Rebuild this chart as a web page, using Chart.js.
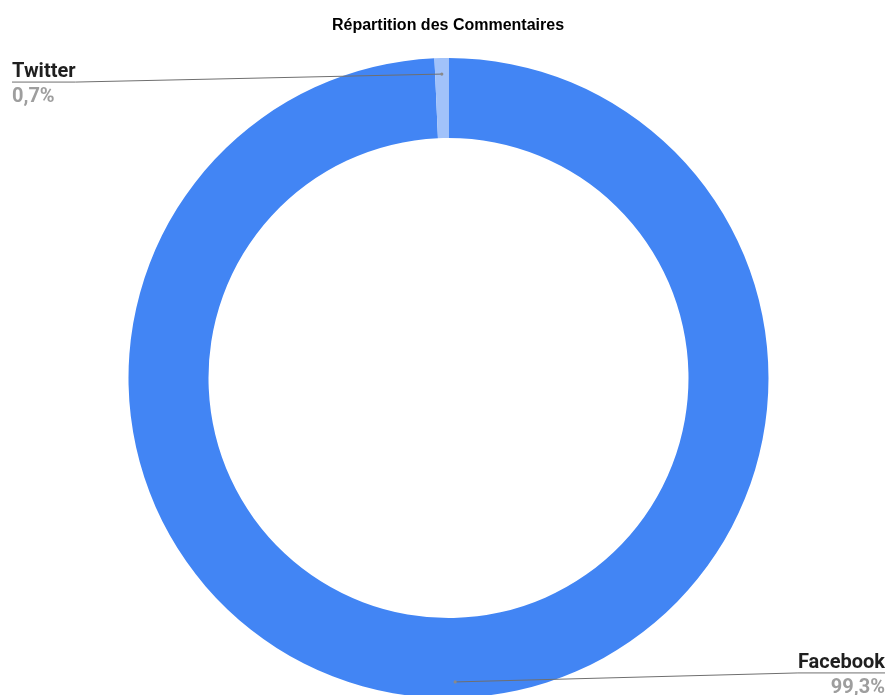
<!DOCTYPE html>
<html>
<head>
<meta charset="utf-8">
<script src="https://cdn.jsdelivr.net/npm/chart.js@4/dist/chart.umd.min.js"></script>
<style>
html,body{margin:0;padding:0;overflow:hidden;background:#fff;}
canvas{display:block;}
</style>
</head>
<body>
<canvas id="c" width="886" height="698"></canvas>
<script>
const titleText = "Répartition des Commentaires";
const categories = ["Facebook", "Twitter"];
const values = [99.3, 0.7];
const colors = ["#4285F4", "#A1C2FA"];

const labelPlugin = {
  id: 'sliceLabels',
  afterDraw(chart) {
    const ctx = chart.ctx;
    // title
    ctx.save();
    ctx.font = "bold 16px 'Liberation Sans', Arial, sans-serif";
    ctx.fillStyle = "#000";
    ctx.textAlign = "center";
    ctx.textBaseline = "alphabetic";
    ctx.fillText(titleText, chart.width / 2 + 5, 30);
    ctx.restore();

    const meta = chart.getDatasetMeta(0);
    const data = chart.data.datasets[0].data;
    const total = data.reduce((a, b) => a + b, 0);
    meta.data.forEach((arc, i) => {
      const p = arc.getProps(['x', 'y', 'startAngle', 'endAngle', 'innerRadius', 'outerRadius'], true);
      const mid = (p.startAngle + p.endAngle) / 2;
      const r = p.innerRadius + (p.outerRadius - p.innerRadius) * 0.8;
      const dx = p.x + Math.cos(mid) * r;
      const dy = p.y + Math.sin(mid) * r;
      const left = dx < p.x;
      const top = dy < p.y;
      const name = chart.data.labels[i];
      const pct = (data[i] / total * 100).toFixed(1).replace('.', ',') + '%';
      ctx.save();
      ctx.font = "bold 20px Roboto, 'Liberation Sans', sans-serif";
      const w = ctx.measureText(name).width;
      const underY = top ? dy + 8 : dy - 9;
      let x0, x1;
      if (left) { x0 = 12; x1 = 12 + w; } else { x1 = 885; x0 = 885 - w; }
      // leader
      ctx.strokeStyle = "#6f6f6f";
      ctx.lineWidth = 1;
      ctx.beginPath();
      if (left) {
        ctx.moveTo(x0, underY); ctx.lineTo(x1, underY); ctx.lineTo(dx, dy);
      } else {
        ctx.moveTo(x1, underY); ctx.lineTo(x0, underY); ctx.lineTo(dx, dy);
      }
      ctx.stroke();
      ctx.fillStyle = "#8a8a8a";
      ctx.beginPath();
      ctx.arc(dx, dy, 1.6, 0, Math.PI * 2);
      ctx.fill();
      // text
      ctx.textAlign = left ? "left" : "right";
      ctx.textBaseline = "alphabetic";
      ctx.fillStyle = "#1f1f1f";
      ctx.fillText(name, left ? x0 : x1, underY - 5);
      ctx.fillStyle = "#9e9e9e";
      ctx.fillText(pct, left ? x0 : x1, underY + 20);
      ctx.restore();
    });
  }
};

new Chart(document.getElementById('c'), {
  type: 'doughnut',
  data: {
    labels: categories,
    datasets: [{
      data: values,
      backgroundColor: colors,
      borderWidth: 0
    }]
  },
  options: {
    responsive: false,
    animation: false,
    cutout: '75%',
    rotation: 0,
    layout: { padding: { top: 58, left: 11, right: 0, bottom: 0 } },
    plugins: {
      legend: { display: false },
      title: { display: false },
      tooltip: { enabled: false }
    }
  },
  plugins: [labelPlugin]
});
</script>
</body>
</html>
